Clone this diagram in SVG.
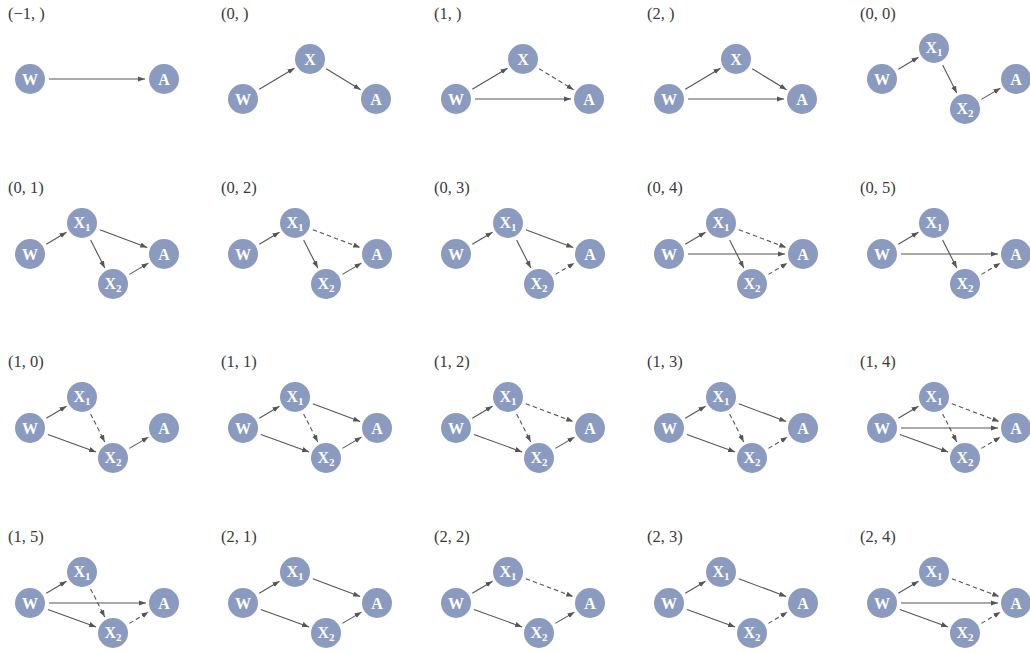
<svg xmlns="http://www.w3.org/2000/svg" width="1030" height="654" viewBox="0 0 1030 654">
<defs>
<marker id="ah" markerWidth="8" markerHeight="6" refX="7" refY="3" orient="auto" markerUnits="userSpaceOnUse"><path d="M0,0.4 L7,3 L0,5.6 z" fill="#555"/></marker>
</defs>
<style>
.lbl{font-family:"Liberation Serif","DejaVu Serif",serif;font-size:16.5px;fill:#3a3a3a}
.n circle{fill:#8a9bbf}
.n text{font-family:"Liberation Serif","DejaVu Serif",serif;font-weight:bold;font-size:16px;fill:#fff;text-anchor:middle}
.sub{font-size:11px}
.e line{stroke:#555;stroke-width:1.1;fill:none;marker-end:url(#ah)}
.e line.d{stroke-dasharray:4.5 3}
</style>
<rect width="1030" height="654" fill="#fff"/>

<!-- labels -->
<g id="labels">
<text class="lbl" x="8" y="19">(−1, )</text>
<text class="lbl" x="221" y="19">(0, )</text>
<text class="lbl" x="434" y="19">(1, )</text>
<text class="lbl" x="647" y="19">(2, )</text>
<text class="lbl" x="860" y="19">(0, 0)</text>
<text class="lbl" x="8" y="193">(0, 1)</text>
<text class="lbl" x="221" y="193">(0, 2)</text>
<text class="lbl" x="434" y="193">(0, 3)</text>
<text class="lbl" x="647" y="193">(0, 4)</text>
<text class="lbl" x="860" y="193">(0, 5)</text>
<text class="lbl" x="8" y="367">(1, 0)</text>
<text class="lbl" x="221" y="367">(1, 1)</text>
<text class="lbl" x="434" y="367">(1, 2)</text>
<text class="lbl" x="647" y="367">(1, 3)</text>
<text class="lbl" x="860" y="367">(1, 4)</text>
<text class="lbl" x="8" y="542">(1, 5)</text>
<text class="lbl" x="221" y="542">(2, 1)</text>
<text class="lbl" x="434" y="542">(2, 2)</text>
<text class="lbl" x="647" y="542">(2, 3)</text>
<text class="lbl" x="860" y="542">(2, 4)</text>
</g>

<!-- (-1,) -->
<g id="p-m1" transform="translate(30,79)">
<g class="e" id="p-m1-edges"><line x1="19" y1="0" x2="115" y2="0"/></g>
<g class="n" id="p-m1-W"><circle r="15"/><text y="5.5">W</text></g>
<g class="n" id="p-m1-A" transform="translate(134,0)"><circle r="15"/><text y="5.5">A</text></g>
</g>

<!-- (0,) -->
<g id="p-0" transform="translate(243,99)">
<g class="e" id="p-0-edges">
<line x1="16.3" y1="-9.7" x2="51.5" y2="-30.8"/>
<line x1="83.2" y1="-30.2" x2="117.6" y2="-9.3"/>
</g>
<g class="n" id="p-0-W"><circle r="15"/><text y="5.5">W</text></g>
<g class="n" id="p-0-X" transform="translate(67,-40)"><circle r="15"/><text y="5.5">X</text></g>
<g class="n" id="p-0-A" transform="translate(133,0)"><circle r="15"/><text y="5.5">A</text></g>
</g>

<!-- (1,) -->
<g id="p-1" transform="translate(456,99)">
<g class="e" id="p-1-edges">
<line x1="16.3" y1="-9.7" x2="51.5" y2="-30.8"/>
<line class="d" x1="83.2" y1="-30.2" x2="117.6" y2="-9.3"/>
<line x1="19" y1="0" x2="115" y2="0"/>
</g>
<g class="n" id="p-1-W"><circle r="15"/><text y="5.5">W</text></g>
<g class="n" id="p-1-X" transform="translate(67,-40)"><circle r="15"/><text y="5.5">X</text></g>
<g class="n" id="p-1-A" transform="translate(133,0)"><circle r="15"/><text y="5.5">A</text></g>
</g>

<!-- (2,) -->
<g id="p-2" transform="translate(669,99)">
<g class="e" id="p-2-edges">
<line x1="16.3" y1="-9.7" x2="51.5" y2="-30.8"/>
<line x1="83.2" y1="-30.2" x2="117.6" y2="-9.3"/>
<line x1="19" y1="0" x2="115" y2="0"/>
</g>
<g class="n" id="p-2-W"><circle r="15"/><text y="5.5">W</text></g>
<g class="n" id="p-2-X" transform="translate(67,-40)"><circle r="15"/><text y="5.5">X</text></g>
<g class="n" id="p-2-A" transform="translate(133,0)"><circle r="15"/><text y="5.5">A</text></g>
</g>

<!-- (0,0) -->
<g id="p-00" transform="translate(882,79)">
<g class="e" id="p-00-edges">
<line x1="16.3" y1="-9.7" x2="36.5" y2="-21.8"/>
<line x1="60.6" y1="-14.1" x2="74.8" y2="14"/>
<line x1="99.4" y1="20.4" x2="118.5" y2="9.1"/>
</g>
<g class="n" id="p-00-W"><circle r="15"/><text y="5.5">W</text></g>
<g class="n" id="p-00-X1" transform="translate(52,-31)"><circle r="15"/><text y="5">X<tspan class="sub" dy="3">1</tspan></text></g>
<g class="n" id="p-00-X2" transform="translate(83,30)"><circle r="15"/><text y="5">X<tspan class="sub" dy="3">2</tspan></text></g>
<g class="n" id="p-00-A" transform="translate(134,0)"><circle r="15"/><text y="5.5">A</text></g>
</g>

<!-- (0,1) -->
<g id="p-01" transform="translate(30,254)">
<g class="e" id="p-01-edges">
<line x1="16.3" y1="-9.7" x2="36.5" y2="-21.8"/>
<line x1="60.6" y1="-14.1" x2="74.8" y2="14"/>
<line x1="69.8" y1="-24.3" x2="117.2" y2="-6.4"/>
<line x1="99.4" y1="20.4" x2="118.5" y2="9.1"/>
</g>
<g class="n" id="p-01-W"><circle r="15"/><text y="5.5">W</text></g>
<g class="n" id="p-01-X1" transform="translate(52,-31)"><circle r="15"/><text y="5">X<tspan class="sub" dy="3">1</tspan></text></g>
<g class="n" id="p-01-X2" transform="translate(83,30)"><circle r="15"/><text y="5">X<tspan class="sub" dy="3">2</tspan></text></g>
<g class="n" id="p-01-A" transform="translate(134,0)"><circle r="15"/><text y="5.5">A</text></g>
</g>

<!-- (0,2) -->
<g id="p-02" transform="translate(243,254)">
<g class="e" id="p-02-edges">
<line x1="16.3" y1="-9.7" x2="36.5" y2="-21.8"/>
<line x1="60.6" y1="-14.1" x2="74.8" y2="14"/>
<line class="d" x1="69.8" y1="-24.3" x2="117.2" y2="-6.4"/>
<line x1="99.4" y1="20.4" x2="118.5" y2="9.1"/>
</g>
<g class="n" id="p-02-W"><circle r="15"/><text y="5.5">W</text></g>
<g class="n" id="p-02-X1" transform="translate(52,-31)"><circle r="15"/><text y="5">X<tspan class="sub" dy="3">1</tspan></text></g>
<g class="n" id="p-02-X2" transform="translate(83,30)"><circle r="15"/><text y="5">X<tspan class="sub" dy="3">2</tspan></text></g>
<g class="n" id="p-02-A" transform="translate(134,0)"><circle r="15"/><text y="5.5">A</text></g>
</g>

<!-- (0,3) -->
<g id="p-03" transform="translate(456,254)">
<g class="e" id="p-03-edges">
<line x1="16.3" y1="-9.7" x2="36.5" y2="-21.8"/>
<line x1="60.6" y1="-14.1" x2="74.8" y2="14"/>
<line x1="69.8" y1="-24.3" x2="117.2" y2="-6.4"/>
<line class="d" x1="99.4" y1="20.4" x2="118.5" y2="9.1"/>
</g>
<g class="n" id="p-03-W"><circle r="15"/><text y="5.5">W</text></g>
<g class="n" id="p-03-X1" transform="translate(52,-31)"><circle r="15"/><text y="5">X<tspan class="sub" dy="3">1</tspan></text></g>
<g class="n" id="p-03-X2" transform="translate(83,30)"><circle r="15"/><text y="5">X<tspan class="sub" dy="3">2</tspan></text></g>
<g class="n" id="p-03-A" transform="translate(134,0)"><circle r="15"/><text y="5.5">A</text></g>
</g>

<!-- (0,4) -->
<g id="p-04" transform="translate(669,254)">
<g class="e" id="p-04-edges">
<line x1="16.3" y1="-9.7" x2="36.5" y2="-21.8"/>
<line x1="60.6" y1="-14.1" x2="74.8" y2="14"/>
<line class="d" x1="69.8" y1="-24.3" x2="117.2" y2="-6.4"/>
<line class="d" x1="99.4" y1="20.4" x2="118.5" y2="9.1"/>
<line x1="19" y1="0" x2="116" y2="0"/>
</g>
<g class="n" id="p-04-W"><circle r="15"/><text y="5.5">W</text></g>
<g class="n" id="p-04-X1" transform="translate(52,-31)"><circle r="15"/><text y="5">X<tspan class="sub" dy="3">1</tspan></text></g>
<g class="n" id="p-04-X2" transform="translate(83,30)"><circle r="15"/><text y="5">X<tspan class="sub" dy="3">2</tspan></text></g>
<g class="n" id="p-04-A" transform="translate(134,0)"><circle r="15"/><text y="5.5">A</text></g>
</g>

<!-- (0,5) -->
<g id="p-05" transform="translate(882,254)">
<g class="e" id="p-05-edges">
<line x1="16.3" y1="-9.7" x2="36.5" y2="-21.8"/>
<line x1="60.6" y1="-14.1" x2="74.8" y2="14"/>
<line class="d" x1="99.4" y1="20.4" x2="118.5" y2="9.1"/>
<line x1="19" y1="0" x2="116" y2="0"/>
</g>
<g class="n" id="p-05-W"><circle r="15"/><text y="5.5">W</text></g>
<g class="n" id="p-05-X1" transform="translate(52,-31)"><circle r="15"/><text y="5">X<tspan class="sub" dy="3">1</tspan></text></g>
<g class="n" id="p-05-X2" transform="translate(83,30)"><circle r="15"/><text y="5">X<tspan class="sub" dy="3">2</tspan></text></g>
<g class="n" id="p-05-A" transform="translate(134,0)"><circle r="15"/><text y="5.5">A</text></g>
</g>

<!-- (1,0) -->
<g id="p-10" transform="translate(30,428)">
<g class="e" id="p-10-edges">
<line x1="16.3" y1="-9.7" x2="36.5" y2="-21.8"/>
<line class="d" x1="60.6" y1="-14.1" x2="74.8" y2="14"/>
<line x1="17.9" y1="6.5" x2="66.1" y2="23.9"/>
<line x1="99.4" y1="20.4" x2="118.5" y2="9.1"/>
</g>
<g class="n" id="p-10-W"><circle r="15"/><text y="5.5">W</text></g>
<g class="n" id="p-10-X1" transform="translate(52,-31)"><circle r="15"/><text y="5">X<tspan class="sub" dy="3">1</tspan></text></g>
<g class="n" id="p-10-X2" transform="translate(83,30)"><circle r="15"/><text y="5">X<tspan class="sub" dy="3">2</tspan></text></g>
<g class="n" id="p-10-A" transform="translate(134,0)"><circle r="15"/><text y="5.5">A</text></g>
</g>

<!-- (1,1) -->
<g id="p-11" transform="translate(243,428)">
<g class="e" id="p-11-edges">
<line x1="16.3" y1="-9.7" x2="36.5" y2="-21.8"/>
<line class="d" x1="60.6" y1="-14.1" x2="74.8" y2="14"/>
<line x1="17.9" y1="6.5" x2="66.1" y2="23.9"/>
<line x1="69.8" y1="-24.3" x2="117.2" y2="-6.4"/>
<line x1="99.4" y1="20.4" x2="118.5" y2="9.1"/>
</g>
<g class="n" id="p-11-W"><circle r="15"/><text y="5.5">W</text></g>
<g class="n" id="p-11-X1" transform="translate(52,-31)"><circle r="15"/><text y="5">X<tspan class="sub" dy="3">1</tspan></text></g>
<g class="n" id="p-11-X2" transform="translate(83,30)"><circle r="15"/><text y="5">X<tspan class="sub" dy="3">2</tspan></text></g>
<g class="n" id="p-11-A" transform="translate(134,0)"><circle r="15"/><text y="5.5">A</text></g>
</g>

<!-- (1,2) -->
<g id="p-12" transform="translate(456,428)">
<g class="e" id="p-12-edges">
<line x1="16.3" y1="-9.7" x2="36.5" y2="-21.8"/>
<line class="d" x1="60.6" y1="-14.1" x2="74.8" y2="14"/>
<line x1="17.9" y1="6.5" x2="66.1" y2="23.9"/>
<line class="d" x1="69.8" y1="-24.3" x2="117.2" y2="-6.4"/>
<line x1="99.4" y1="20.4" x2="118.5" y2="9.1"/>
</g>
<g class="n" id="p-12-W"><circle r="15"/><text y="5.5">W</text></g>
<g class="n" id="p-12-X1" transform="translate(52,-31)"><circle r="15"/><text y="5">X<tspan class="sub" dy="3">1</tspan></text></g>
<g class="n" id="p-12-X2" transform="translate(83,30)"><circle r="15"/><text y="5">X<tspan class="sub" dy="3">2</tspan></text></g>
<g class="n" id="p-12-A" transform="translate(134,0)"><circle r="15"/><text y="5.5">A</text></g>
</g>

<!-- (1,3) -->
<g id="p-13" transform="translate(669,428)">
<g class="e" id="p-13-edges">
<line x1="16.3" y1="-9.7" x2="36.5" y2="-21.8"/>
<line class="d" x1="60.6" y1="-14.1" x2="74.8" y2="14"/>
<line x1="17.9" y1="6.5" x2="66.1" y2="23.9"/>
<line x1="69.8" y1="-24.3" x2="117.2" y2="-6.4"/>
<line class="d" x1="99.4" y1="20.4" x2="118.5" y2="9.1"/>
</g>
<g class="n" id="p-13-W"><circle r="15"/><text y="5.5">W</text></g>
<g class="n" id="p-13-X1" transform="translate(52,-31)"><circle r="15"/><text y="5">X<tspan class="sub" dy="3">1</tspan></text></g>
<g class="n" id="p-13-X2" transform="translate(83,30)"><circle r="15"/><text y="5">X<tspan class="sub" dy="3">2</tspan></text></g>
<g class="n" id="p-13-A" transform="translate(134,0)"><circle r="15"/><text y="5.5">A</text></g>
</g>

<!-- (1,4) -->
<g id="p-14" transform="translate(882,428)">
<g class="e" id="p-14-edges">
<line x1="16.3" y1="-9.7" x2="36.5" y2="-21.8"/>
<line class="d" x1="60.6" y1="-14.1" x2="74.8" y2="14"/>
<line x1="17.9" y1="6.5" x2="66.1" y2="23.9"/>
<line class="d" x1="69.8" y1="-24.3" x2="117.2" y2="-6.4"/>
<line class="d" x1="99.4" y1="20.4" x2="118.5" y2="9.1"/>
<line x1="19" y1="0" x2="116" y2="0"/>
</g>
<g class="n" id="p-14-W"><circle r="15"/><text y="5.5">W</text></g>
<g class="n" id="p-14-X1" transform="translate(52,-31)"><circle r="15"/><text y="5">X<tspan class="sub" dy="3">1</tspan></text></g>
<g class="n" id="p-14-X2" transform="translate(83,30)"><circle r="15"/><text y="5">X<tspan class="sub" dy="3">2</tspan></text></g>
<g class="n" id="p-14-A" transform="translate(134,0)"><circle r="15"/><text y="5.5">A</text></g>
</g>

<!-- (1,5) -->
<g id="p-15" transform="translate(30,603)">
<g class="e" id="p-15-edges">
<line x1="16.3" y1="-9.7" x2="36.5" y2="-21.8"/>
<line class="d" x1="60.6" y1="-14.1" x2="74.8" y2="14"/>
<line x1="17.9" y1="6.5" x2="66.1" y2="23.9"/>
<line class="d" x1="99.4" y1="20.4" x2="118.5" y2="9.1"/>
<line x1="19" y1="0" x2="116" y2="0"/>
</g>
<g class="n" id="p-15-W"><circle r="15"/><text y="5.5">W</text></g>
<g class="n" id="p-15-X1" transform="translate(52,-31)"><circle r="15"/><text y="5">X<tspan class="sub" dy="3">1</tspan></text></g>
<g class="n" id="p-15-X2" transform="translate(83,30)"><circle r="15"/><text y="5">X<tspan class="sub" dy="3">2</tspan></text></g>
<g class="n" id="p-15-A" transform="translate(134,0)"><circle r="15"/><text y="5.5">A</text></g>
</g>

<!-- (2,1) -->
<g id="p-21" transform="translate(243,603)">
<g class="e" id="p-21-edges">
<line x1="16.3" y1="-9.7" x2="36.5" y2="-21.8"/>
<line x1="17.9" y1="6.5" x2="66.1" y2="23.9"/>
<line x1="69.8" y1="-24.3" x2="117.2" y2="-6.4"/>
<line x1="99.4" y1="20.4" x2="118.5" y2="9.1"/>
</g>
<g class="n" id="p-21-W"><circle r="15"/><text y="5.5">W</text></g>
<g class="n" id="p-21-X1" transform="translate(52,-31)"><circle r="15"/><text y="5">X<tspan class="sub" dy="3">1</tspan></text></g>
<g class="n" id="p-21-X2" transform="translate(83,30)"><circle r="15"/><text y="5">X<tspan class="sub" dy="3">2</tspan></text></g>
<g class="n" id="p-21-A" transform="translate(134,0)"><circle r="15"/><text y="5.5">A</text></g>
</g>

<!-- (2,2) -->
<g id="p-22" transform="translate(456,603)">
<g class="e" id="p-22-edges">
<line x1="16.3" y1="-9.7" x2="36.5" y2="-21.8"/>
<line x1="17.9" y1="6.5" x2="66.1" y2="23.9"/>
<line class="d" x1="69.8" y1="-24.3" x2="117.2" y2="-6.4"/>
<line x1="99.4" y1="20.4" x2="118.5" y2="9.1"/>
</g>
<g class="n" id="p-22-W"><circle r="15"/><text y="5.5">W</text></g>
<g class="n" id="p-22-X1" transform="translate(52,-31)"><circle r="15"/><text y="5">X<tspan class="sub" dy="3">1</tspan></text></g>
<g class="n" id="p-22-X2" transform="translate(83,30)"><circle r="15"/><text y="5">X<tspan class="sub" dy="3">2</tspan></text></g>
<g class="n" id="p-22-A" transform="translate(134,0)"><circle r="15"/><text y="5.5">A</text></g>
</g>

<!-- (2,3) -->
<g id="p-23" transform="translate(669,603)">
<g class="e" id="p-23-edges">
<line x1="16.3" y1="-9.7" x2="36.5" y2="-21.8"/>
<line x1="17.9" y1="6.5" x2="66.1" y2="23.9"/>
<line x1="69.8" y1="-24.3" x2="117.2" y2="-6.4"/>
<line class="d" x1="99.4" y1="20.4" x2="118.5" y2="9.1"/>
</g>
<g class="n" id="p-23-W"><circle r="15"/><text y="5.5">W</text></g>
<g class="n" id="p-23-X1" transform="translate(52,-31)"><circle r="15"/><text y="5">X<tspan class="sub" dy="3">1</tspan></text></g>
<g class="n" id="p-23-X2" transform="translate(83,30)"><circle r="15"/><text y="5">X<tspan class="sub" dy="3">2</tspan></text></g>
<g class="n" id="p-23-A" transform="translate(134,0)"><circle r="15"/><text y="5.5">A</text></g>
</g>

<!-- (2,4) -->
<g id="p-24" transform="translate(882,603)">
<g class="e" id="p-24-edges">
<line x1="16.3" y1="-9.7" x2="36.5" y2="-21.8"/>
<line x1="17.9" y1="6.5" x2="66.1" y2="23.9"/>
<line class="d" x1="69.8" y1="-24.3" x2="117.2" y2="-6.4"/>
<line class="d" x1="99.4" y1="20.4" x2="118.5" y2="9.1"/>
<line x1="19" y1="0" x2="116" y2="0"/>
</g>
<g class="n" id="p-24-W"><circle r="15"/><text y="5.5">W</text></g>
<g class="n" id="p-24-X1" transform="translate(52,-31)"><circle r="15"/><text y="5">X<tspan class="sub" dy="3">1</tspan></text></g>
<g class="n" id="p-24-X2" transform="translate(83,30)"><circle r="15"/><text y="5">X<tspan class="sub" dy="3">2</tspan></text></g>
<g class="n" id="p-24-A" transform="translate(134,0)"><circle r="15"/><text y="5.5">A</text></g>
</g>
</svg>
